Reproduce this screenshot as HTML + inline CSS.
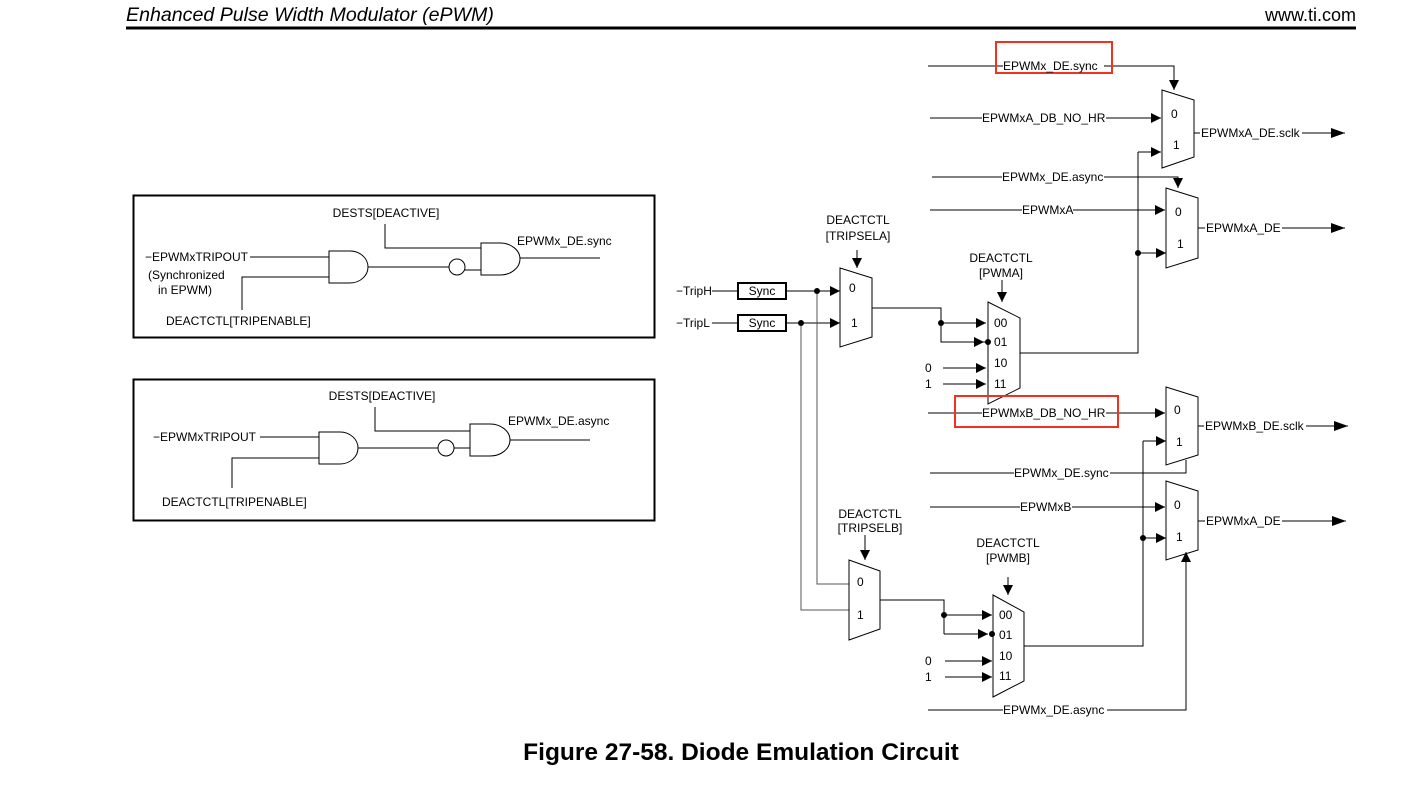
<!DOCTYPE html>
<html><head><meta charset="utf-8"><style>
body{margin:0;background:#fff;}
svg{display:block;}
text{font-family:"Liberation Sans",Arial,sans-serif;font-size:12px;fill:#000;}
</style></head><body>
<svg width="1424" height="809" viewBox="0 0 1424 809" xmlns="http://www.w3.org/2000/svg">
<defs>
<marker id="a" viewBox="0 0 10 10" refX="10" refY="5" markerWidth="10" markerHeight="10" markerUnits="userSpaceOnUse" orient="auto"><path d="M0,0L10,5L0,10z" fill="#000"/></marker>
<marker id="b" viewBox="0 0 14 10" refX="14" refY="5" markerWidth="14" markerHeight="10" markerUnits="userSpaceOnUse" orient="auto"><path d="M0,0L14,5L0,10z" fill="#000"/></marker>
</defs>
<text x="126" y="21" style="font-size:19.6px;font-style:italic">Enhanced Pulse Width Modulator (ePWM)</text>
<text x="1356" y="21" text-anchor="end" style="font-size:18px">www.ti.com</text>
<line x1="126" y1="28" x2="1356" y2="28" stroke="#000" stroke-width="3"/>

<g fill="none" stroke="#000" stroke-width="1">
<rect x="133.5" y="195.5" width="521" height="142" stroke-width="2"/>
<path d="M385,224V248H481M250,257H329M242,310V277H329M368,267H449M465,270H481M520,258H600"/>
<path d="M329,251H350A18,16 0 0 1 350,283H329Z"/>
<circle cx="457" cy="267" r="8"/>
<path d="M481,243H500A20,16 0 0 1 500,275H481Z"/>
<rect x="133.5" y="379.5" width="521" height="141" stroke-width="2"/>
<path d="M375,407V431H470M260,437H319M232,488V458H319M358,448H438M454,448H470M510,440H590"/>
<path d="M319,432H340A18,16 0 0 1 340,464H319Z"/>
<circle cx="446" cy="448" r="8"/>
<path d="M470,424H490A20,16 0 0 1 490,456H470Z"/>

<path d="M712,291H738M712,323H738"/>
<rect x="738" y="283" width="48" height="16" stroke-width="2"/>
<rect x="738" y="315" width="48" height="16" stroke-width="2"/>
<path d="M786,291H840" marker-end="url(#a)"/>
<path d="M786,323H840" marker-end="url(#a)"/>
<path d="M817,291V584H849M801,323V610H849" stroke="#555"/>
<path d="M840,268L872,278V337L840,347Z"/>
<path d="M857,250V268" marker-end="url(#a)"/>
<path d="M872,308H941V342H988" />
<path d="M941,323H986" marker-end="url(#a)"/>
<path d="M941,342H984" marker-end="url(#a)"/>
<path d="M988,302L1020,318V388L988,404Z"/>
<path d="M1002,280V302" marker-end="url(#a)"/>
<path d="M943,368H986" marker-end="url(#a)"/>
<path d="M943,384H986" marker-end="url(#a)"/>
<path d="M1020,353H1138V152"/>
<path d="M1138,152H1161" marker-end="url(#a)"/>
<path d="M1138,253H1166" marker-end="url(#a)"/>
<path d="M1162,90L1194,100V157L1162,168Z"/>
<path d="M928,66H1174V90" marker-end="url(#a)"/>
<path d="M930,118H1161" marker-end="url(#a)"/>
<path d="M1194,133H1345" marker-end="url(#b)"/>
<path d="M1166,188L1198,198V258L1166,268Z"/>
<path d="M932,177H1178V188" marker-end="url(#a)"/>
<path d="M930,210H1165" marker-end="url(#a)"/>
<path d="M1198,228H1345" marker-end="url(#b)"/>
<path d="M1166,387L1198,397V455L1166,465Z"/>
<path d="M928,413H1165" marker-end="url(#a)"/>
<path d="M930,473H1186V460"/>
<path d="M1198,426H1348" marker-end="url(#b)"/>
<path d="M1166,481L1198,491V550L1166,560Z"/>
<path d="M930,507H1165" marker-end="url(#a)"/>
<path d="M928,710H1186V552" marker-end="url(#a)"/>
<path d="M1198,521H1346" marker-end="url(#b)"/>
<path d="M849,560L880,571V629L849,640Z"/>
<path d="M865,535V560" marker-end="url(#a)"/>
<path d="M880,600H944V634"/>
<path d="M944,615H992" marker-end="url(#a)"/>
<path d="M944,634H988" marker-end="url(#a)"/>
<path d="M993,595L1024,612V681L993,697Z"/>
<path d="M1008,577V595" marker-end="url(#a)"/>
<path d="M945,661H992" marker-end="url(#a)"/>
<path d="M945,677H992" marker-end="url(#a)"/>
<path d="M1024,646H1143V441"/>
<path d="M1143,441H1166" marker-end="url(#a)"/>
<path d="M1143,538H1166" marker-end="url(#a)"/>
<rect x="996" y="42" width="116" height="31" stroke="#e32" stroke-width="2"/>
<rect x="955" y="396" width="163" height="31" stroke="#e32" stroke-width="2"/>
</g>
<g fill="#000">
<circle cx="817" cy="291" r="3"/><circle cx="801" cy="323" r="3"/>
<circle cx="941" cy="323" r="3"/><circle cx="988" cy="342" r="3"/>
<circle cx="1138" cy="253" r="3"/>
<circle cx="944" cy="615" r="3"/><circle cx="992" cy="634" r="3"/>
<circle cx="1143" cy="538" r="3"/>
</g>

<g>
<text x="386" y="217" text-anchor="middle">DESTS[DEACTIVE]</text>
<text x="145" y="261">−EPWMxTRIPOUT</text>
<text x="148" y="279">(Synchronized</text>
<text x="158" y="294">in EPWM)</text>
<text x="166" y="325">DEACTCTL[TRIPENABLE]</text>
<text x="517" y="245">EPWMx_DE.sync</text>
<text x="382" y="400" text-anchor="middle">DESTS[DEACTIVE]</text>
<text x="153" y="441">−EPWMxTRIPOUT</text>
<text x="162" y="506">DEACTCTL[TRIPENABLE]</text>
<text x="508" y="425">EPWMx_DE.async</text>
<text x="676" y="295">−TripH</text>
<text x="676" y="327">−TripL</text>
<text x="762" y="295" text-anchor="middle">Sync</text>
<text x="762" y="327" text-anchor="middle">Sync</text>
<text x="858" y="224" text-anchor="middle">DEACTCTL</text>
<text x="858" y="240" text-anchor="middle">[TRIPSELA]</text>
<text x="849" y="292">0</text><text x="851" y="327">1</text>
<text x="1001" y="262" text-anchor="middle">DEACTCTL</text>
<text x="1001" y="277" text-anchor="middle">[PWMA]</text>
<text x="994" y="327">00</text><text x="994" y="346">01</text><text x="994" y="367">10</text><text x="994" y="388">11</text>
<text x="925" y="372">0</text><text x="925" y="388">1</text>
<text x="870" y="518" text-anchor="middle">DEACTCTL</text>
<text x="870" y="532" text-anchor="middle">[TRIPSELB]</text>
<text x="857" y="586">0</text><text x="857" y="619">1</text>
<text x="1008" y="547" text-anchor="middle">DEACTCTL</text>
<text x="1008" y="562" text-anchor="middle">[PWMB]</text>
<text x="999" y="619">00</text><text x="999" y="639">01</text><text x="999" y="660">10</text><text x="999" y="680">11</text>
<text x="925" y="665">0</text><text x="925" y="681">1</text>
<text x="1171" y="118">0</text><text x="1173" y="149">1</text>
<text x="1175" y="216">0</text><text x="1177" y="248">1</text>
<text x="1174" y="414">0</text><text x="1176" y="446">1</text>
<text x="1174" y="509">0</text><text x="1176" y="541">1</text>
</g>
<g>
<rect x="1003" y="58" width="101" height="14" fill="#fff"/><text x="1003" y="70">EPWMx_DE.sync</text>
<rect x="982" y="111" width="124" height="14" fill="#fff"/><text x="982" y="122">EPWMxA_DB_NO_HR</text>
<rect x="1002" y="170" width="102" height="14" fill="#fff"/><text x="1002" y="181">EPWMx_DE.async</text>
<rect x="1022" y="203" width="51" height="14" fill="#fff"/><text x="1022" y="214">EPWMxA</text>
<rect x="1200" y="126" width="102" height="14" fill="#fff"/><text x="1201" y="137">EPWMxA_DE.sclk</text>
<rect x="1205" y="221" width="77" height="14" fill="#fff"/><text x="1206" y="232">EPWMxA_DE</text>
<rect x="982" y="406" width="124" height="14" fill="#fff"/><text x="982" y="417">EPWMxB_DB_NO_HR</text>
<rect x="1014" y="466" width="96" height="14" fill="#fff"/><text x="1014" y="477">EPWMx_DE.sync</text>
<rect x="1020" y="500" width="52" height="14" fill="#fff"/><text x="1020" y="511">EPWMxB</text>
<rect x="1204" y="419" width="102" height="14" fill="#fff"/><text x="1205" y="430">EPWMxB_DE.sclk</text>
<rect x="1205" y="514" width="77" height="14" fill="#fff"/><text x="1206" y="525">EPWMxA_DE</text>
<rect x="1003" y="703" width="104" height="14" fill="#fff"/><text x="1003" y="714">EPWMx_DE.async</text>
</g>
<text x="741" y="760" text-anchor="middle" style="font-size:24.5px;font-weight:bold">Figure 27-58. Diode Emulation Circuit</text>
</svg>
</body></html>
